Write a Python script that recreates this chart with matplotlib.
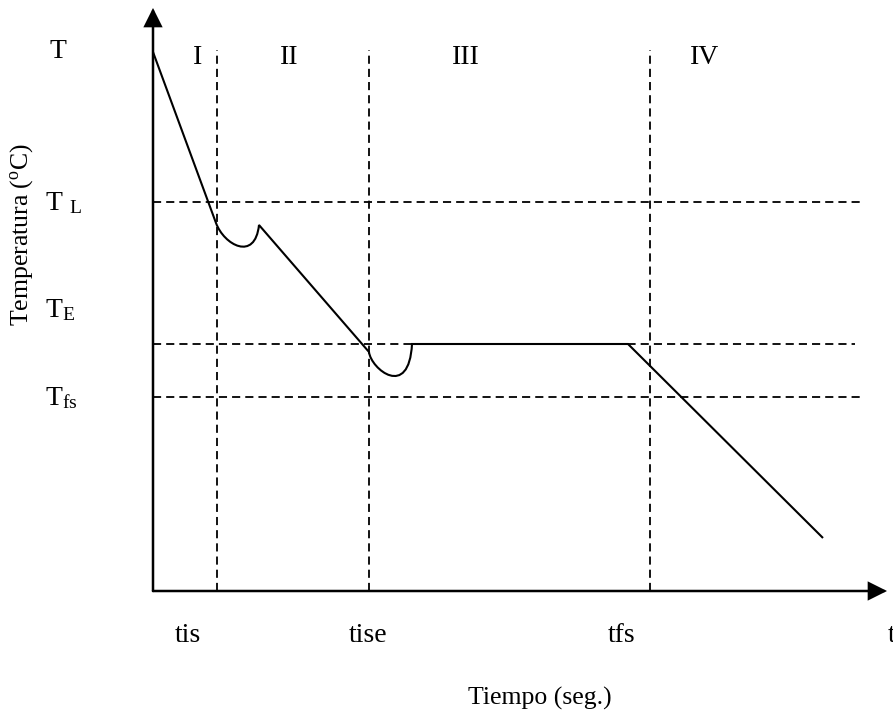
import matplotlib
matplotlib.use("Agg")
import matplotlib.pyplot as plt
from matplotlib.path import Path
from matplotlib.patches import PathPatch, FancyArrowPatch

plt.rcParams['font.family'] = 'Liberation Serif'
plt.rcParams['mathtext.fontset'] = 'custom'
plt.rcParams['mathtext.rm'] = 'Liberation Serif'
plt.rcParams['mathtext.it'] = 'Liberation Serif:italic'

# characteristic times (x) and temperatures (y), arbitrary units
t_marks = [64, 216, 497]
t_labels = ['tis', 'tise', 'tfs']
t_label_x = [35, 215, 469]
t_top = 541

temp_levels = [389, 247, 194]          # T_L, T_E, T_fs
temp_ends = [707, 702, 707]
temp_labels = ['T $_{\\mathrm{L}}$', 'T$_{\\mathrm{E}}$', 'T$_{\\mathrm{fs}}$']
temp_label_y = [381, 274, 186]

region_labels = ['I', 'II', 'III', 'IV']
region_x = [45, 136, 313, 552]

# cooling curve: straight runs and two undercooling dips (bezier control points)
curve_pts = [(0, 539), (63, 368),
             (71, 346), (102, 329), (106, 366),
             (216, 239),
             (218, 222), (256, 191), (259, 247),
             (475, 247), (670, 53)]
curve_codes = [Path.MOVETO, Path.LINETO,
               Path.CURVE4, Path.CURVE4, Path.CURVE4,
               Path.LINETO,
               Path.CURVE4, Path.CURVE4, Path.CURVE4,
               Path.LINETO, Path.LINETO]

fig = plt.figure(figsize=(8.93, 7.13), dpi=100)
ax = fig.add_axes([0, 0, 1, 1])
ax.set_xlim(-153, 740)
ax.set_ylim(-122, 591)
ax.axis('off')

dash = (0, (4.5, 2.8))

# guide lines
ax.vlines(t_marks, 0, t_top, colors='k', linestyles=[dash], linewidth=1.3)
for y, xe in zip(temp_levels, temp_ends):
    ax.hlines(y, 0, xe, colors='k', linestyles=[dash], linewidth=1.3)

# the curve
ax.add_patch(PathPatch(Path(curve_pts, curve_codes), facecolor='none',
                       edgecolor='k', linewidth=1.5))

# axes with arrows
for end in [(0, 583), (734, 0)]:
    ax.add_patch(FancyArrowPatch((0, 0), end,
                                 arrowstyle='-|>,head_length=11,head_width=5.5',
                                 mutation_scale=1, linewidth=1.8, color='k',
                                 shrinkA=0, shrinkB=0, joinstyle='miter'))

# labels
ax.text(-103, 533, 'T', fontsize=20, ha='left', va='baseline')
for lab, y in zip(temp_labels, temp_label_y):
    ax.text(-108, y, lab, fontsize=20, ha='left', va='baseline')

for lab, x in zip(region_labels, region_x):
    ax.text(x, 534, lab, fontsize=20, ha='center', va='center')

for lab, x in zip(t_labels, t_label_x):
    ax.text(x, -51, lab, fontsize=20, ha='center', va='baseline')
ax.text(735, -51, 't', fontsize=20, ha='left', va='baseline')

ax.text(387, -114, 'Tiempo (seg.)', fontsize=18.5, ha='center', va='baseline')
ax.text(-131, 356, 'Temperatura ($^{\\mathrm{o}}$C)', fontsize=18.5,
        rotation=90, ha='center', va='center')

fig.savefig('out.png', dpi=100)
